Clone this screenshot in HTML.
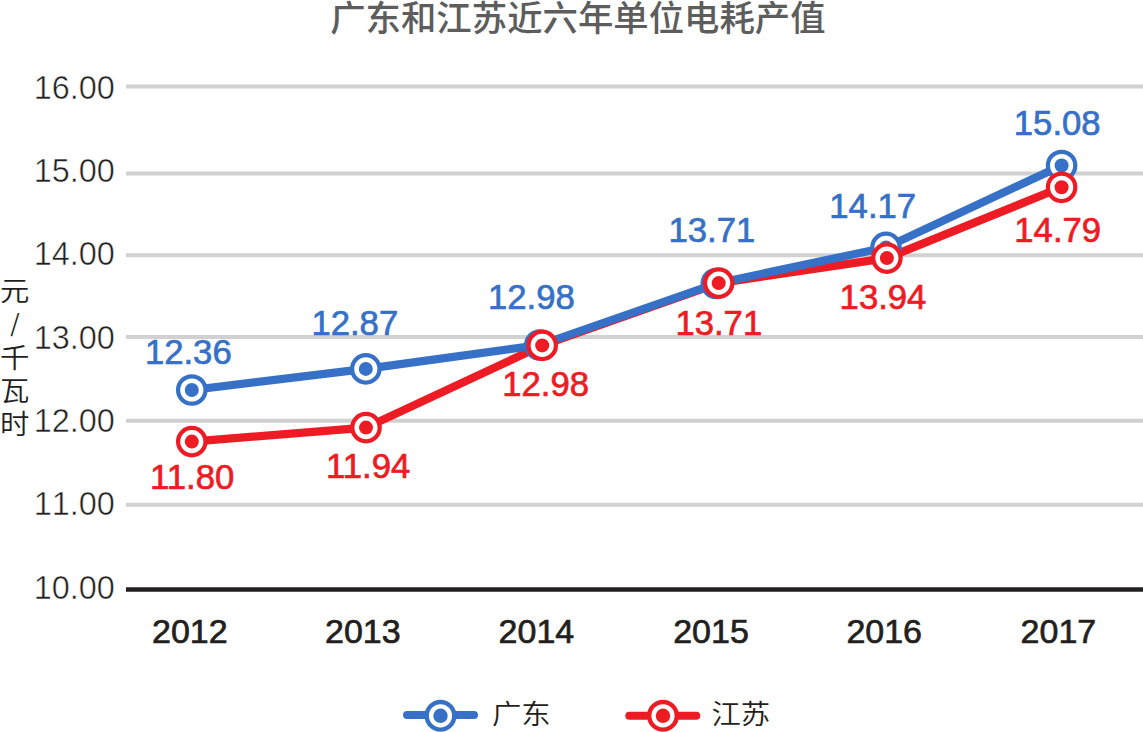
<!DOCTYPE html>
<html lang="zh-CN">
<head>
<meta charset="utf-8">
<title>广东和江苏近六年单位电耗产值</title>
<style>
html,body{margin:0;padding:0;background:#fff;}
body{width:1143px;height:732px;overflow:hidden;}
svg{display:block;}
.lat{font-family:"Liberation Sans",Arial,sans-serif;}
.cjk{font-family:"Liberation Sans","Noto Sans CJK SC",sans-serif;}
</style>
</head>
<body>
<svg width="1143" height="732" viewBox="0 0 1143 732">
  <rect width="1143" height="732" fill="#fff"/>
  <!-- title -->
  <text class="cjk" x="330.2" y="31" font-size="35.4" font-weight="500" fill="#5d5d5d">广东和江苏近六年单位电耗产值</text>

  <!-- grid lines -->
  <g stroke="#d1d1d1" stroke-width="4">
    <line x1="126" y1="86.6" x2="1143" y2="86.6"/>
    <line x1="126" y1="173.4" x2="1143" y2="173.4"/>
    <line x1="126" y1="255.2" x2="1143" y2="255.2"/>
    <line x1="126" y1="337" x2="1143" y2="337"/>
    <line x1="126" y1="420.8" x2="1143" y2="420.8"/>
    <line x1="126" y1="504.7" x2="1143" y2="504.7"/>
  </g>
  <line x1="126" y1="589.4" x2="1143" y2="589.4" stroke="#231f20" stroke-width="4.5"/>

  <!-- y axis labels -->
  <g class="lat" font-size="32.4" fill="#231f20" stroke="#fff" stroke-width="0.5" style="font-kerning:none">
    <text x="33.7" y="98.7">16.00</text>
    <text x="33.7" y="181.8">15.00</text>
    <text x="33.7" y="264.8">14.00</text>
    <text x="33.7" y="348.7">13.00</text>
    <text x="33.7" y="431.7">12.00</text>
    <text x="33.7" y="514.8">11.00</text>
    <text x="33.7" y="598.7">10.00</text>
  </g>

  <!-- y axis title -->
  <g class="cjk" font-size="29.4" font-weight="350" fill="#231f20" text-anchor="middle">
    <text transform="translate(14.8,300.7) scale(1,0.92)">元</text>
    <text transform="translate(14.8,368.4) scale(1,0.92)">千</text>
    <text transform="translate(14.8,401.1) scale(1,0.92)">瓦</text>
    <text transform="translate(14.8,434.1) scale(1,0.92)">时</text>
  </g>
  <text x="10.2" y="331.8" font-family="Noto Sans CJK SC, sans-serif" font-size="24" font-weight="400" fill="#231f20">/</text>

  <!-- x axis labels -->
  <g class="lat" font-size="34" font-weight="400" fill="#231f20" stroke="#231f20" stroke-width="0.7">
    <text x="152" y="643">2012</text>
    <text x="325" y="643">2013</text>
    <text x="498.6" y="643">2014</text>
    <text x="673.2" y="643">2015</text>
    <text x="846.4" y="643">2016</text>
    <text x="1020.6" y="643">2017</text>
  </g>

  <!-- series lines -->
  <polyline fill="none" stroke="#ed1c24" stroke-width="8.2" stroke-linejoin="round"
    points="191.8,441.6 366,427.6 542.2,345.4 718.7,283.1 886.9,258.1 1061.6,187.3"/>
  <polyline fill="none" stroke="#3671c7" stroke-width="8.2" stroke-linejoin="round"
    points="191.8,390 365.8,368.9 539.8,345 716.3,283.5 886,247.4 1061.6,165.5"/>

  <!-- blue markers -->
  <g fill="#fff" stroke="#3671c7" stroke-width="4.25">
    <circle cx="191.8" cy="390" r="13.7"/>
    <circle cx="365.8" cy="368.9" r="13.7"/>
    <circle cx="539.8" cy="345" r="13.7"/>
    <circle cx="716.3" cy="283.5" r="13.7"/>
    <circle cx="886" cy="247.4" r="13.7"/>
    <circle cx="1061.6" cy="165.5" r="13.7"/>
  </g>
  <g fill="#3671c7">
    <circle cx="191.8" cy="390" r="7"/>
    <circle cx="365.8" cy="368.9" r="7"/>
    <circle cx="539.8" cy="345" r="7"/>
    <circle cx="716.3" cy="283.5" r="7"/>
    <circle cx="886" cy="247.4" r="7"/>
    <circle cx="1061.6" cy="165.5" r="7"/>
  </g>
  <!-- red markers -->
  <g fill="#fff" stroke="#ed1c24" stroke-width="4.25">
    <circle cx="191.8" cy="441.6" r="13.7"/>
    <circle cx="366" cy="427.6" r="13.7"/>
    <circle cx="542.2" cy="345.4" r="13.7"/>
    <circle cx="718.7" cy="283.1" r="13.7"/>
    <circle cx="886.9" cy="258.1" r="13.7"/>
    <circle cx="1061.6" cy="187.3" r="13.7"/>
  </g>
  <g fill="#ed1c24">
    <circle cx="191.8" cy="441.6" r="7"/>
    <circle cx="366" cy="427.6" r="7"/>
    <circle cx="542.2" cy="345.4" r="7"/>
    <circle cx="718.7" cy="283.1" r="7"/>
    <circle cx="886.9" cy="258.1" r="7"/>
    <circle cx="1061.6" cy="187.3" r="7"/>
  </g>

  <!-- data labels blue -->
  <g class="lat" font-size="34.7" fill="#3671c7" stroke="#3671c7" stroke-width="0.7">
    <text x="144.9" y="364.0">12.36</text>
    <text x="311.4" y="335.0">12.87</text>
    <text x="488" y="309.0">12.98</text>
    <text x="668.5" y="241.7">13.71</text>
    <text x="829.3" y="218.0">14.17</text>
    <text x="1013.8" y="135.1">15.08</text>
  </g>
  <!-- data labels red -->
  <g class="lat" font-size="34.7" fill="#ed1c24" stroke="#ed1c24" stroke-width="0.7">
    <text x="150.1" y="489.0">11.80</text>
    <text x="326.1" y="477.7">11.94</text>
    <text x="502.2" y="396.1">12.98</text>
    <text x="675.4" y="335.1">13.71</text>
    <text x="839.6" y="309.0">13.94</text>
    <text x="1014.3" y="242.2">14.79</text>
  </g>

  <!-- legend -->
  <line x1="407" y1="715" x2="474" y2="715" stroke="#3671c7" stroke-width="8" stroke-linecap="round"/>
  <circle cx="440.5" cy="715.8" r="13.8" fill="#fff" stroke="#3671c7" stroke-width="4.4"/>
  <circle cx="440.5" cy="715.8" r="7.2" fill="#3671c7"/>
  <text class="cjk" transform="translate(491.9,724) scale(1,0.93)" font-size="29.4" font-weight="350" fill="#231f20">广东</text>

  <line x1="629.3" y1="715.8" x2="696.3" y2="715.8" stroke="#ed1c24" stroke-width="8" stroke-linecap="round"/>
  <circle cx="663" cy="715.8" r="13.8" fill="#fff" stroke="#ed1c24" stroke-width="4.4"/>
  <circle cx="663" cy="715.8" r="7.2" fill="#ed1c24"/>
  <text class="cjk" transform="translate(711.4,724.4) scale(1,0.93)" font-size="29.4" font-weight="350" fill="#231f20">江苏</text>
</svg>
</body>
</html>
